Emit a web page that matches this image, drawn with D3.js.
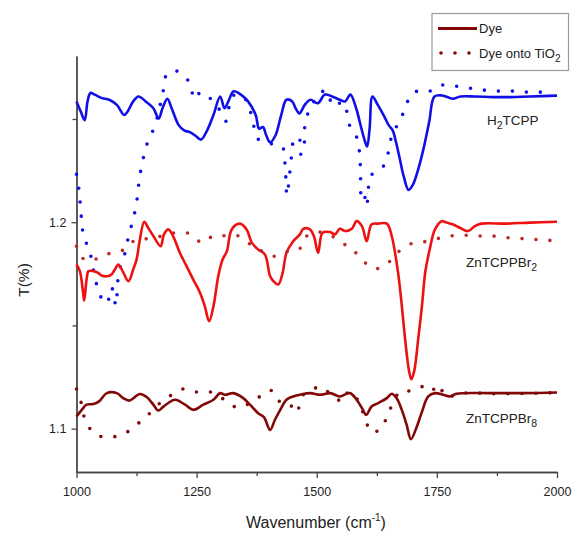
<!DOCTYPE html>
<html>
<head>
<meta charset="utf-8">
<script src="https://cdn.jsdelivr.net/npm/d3@7"></script>
<style>
body { margin: 0; background: #fff; }
text { font-family: Arial, "Liberation Sans", sans-serif; fill: #222; }
.axis path, .axis line { stroke: #444; stroke-width: 1.3; }
.solid { fill: none; stroke-width: 2.6; stroke-linejoin: round; }
.dotted { fill: none; stroke-width: 3.6; stroke-linecap: round; stroke-dasharray: 0 14; }
</style>
</head>
<body>
<svg id="chart" width="572" height="533"></svg>
<script>
// ticks
const xMajor = [1000, 1250, 1500, 1750, 2000];
const xMinor = [1125, 1375, 1625, 1875];
const yMajor = [1.1, 1.2];
const yMinor = [1.15, 1.25];

// H2TCPP : [wavenumber, T]
const h2Dye = [
  [1000,1.2585],[1009,1.2535],[1017,1.2494],[1023,1.2585],[1029,1.2626],[1038,1.2618],[1053,1.2601],
  [1068,1.2593],[1084,1.2568],[1099,1.2519],[1106,1.2535],[1118,1.2585],[1129,1.2609],[1144,1.2585],
  [1160,1.2552],[1171,1.2502],[1179,1.2552],[1189,1.2598],[1198,1.2552],[1213,1.2469],[1224,1.2445],
  [1236,1.2436],[1247,1.2420],[1259,1.2400],[1270,1.2436],[1285,1.2519],[1299,1.2609],[1308,1.2552],
  [1316,1.2585],[1327,1.2634],[1342,1.2618],[1357,1.2585],[1373,1.2519],[1380,1.2453],[1388,1.2461],
  [1395,1.2420],[1403,1.2387],[1414,1.2420],[1426,1.2519],[1437,1.2593],[1449,1.2585],[1456,1.2552],
  [1464,1.2527],[1475,1.2568],[1487,1.2593],[1502,1.2576],[1517,1.2618],[1532,1.2609],[1548,1.2593],
  [1559,1.2585],[1570,1.2618],[1582,1.2552],[1593,1.2453],[1601,1.2387],[1605,1.2367],[1610,1.2453],
  [1616,1.2609],[1627,1.2568],[1639,1.2519],[1650,1.2469],[1658,1.2445],[1665,1.2387],[1673,1.2305],
  [1681,1.2222],[1691,1.2156],[1700,1.2181],[1711,1.2255],[1722,1.2354],[1734,1.2486],[1745,1.2609],
  [1761,1.2614],[1783,1.2598],[1799,1.2609],[1829,1.2609],[1867,1.2606],[1905,1.2606],[1943,1.2609],
  [2000,1.2613]
];
const h2TiO2 = [
  [1000,1.2232],[1005,1.2159],[1011,1.2004],[1016,1.1917],[1026,1.1878],[1032,1.1805],[1039,1.1727],
  [1049,1.1645],[1063,1.1606],[1073,1.1684],[1082,1.1596],[1085,1.1674],[1088,1.1756],[1099,1.1834],
  [1107,1.1917],[1116,1.1999],[1124,1.2077],[1128,1.2154],[1132,1.2227],[1139,1.2310],[1148,1.2387],
  [1163,1.2465],[1172,1.2547],[1180,1.2630],[1186,1.2708],[1199,1.2732],[1211,1.2730],[1236,1.2674],
  [1245,1.2596],[1259,1.2630],[1282,1.2591],[1297,1.2547],[1311,1.2489],[1324,1.2610],[1344,1.2615],
  [1359,1.2557],[1368,1.2474],[1378,1.2402],[1405,1.2380],[1428,1.2366],[1434,1.2281],[1438,1.2130],
  [1444,1.2242],[1448,1.2329],[1453,1.2402],[1463,1.2412],[1467,1.2329],[1472,1.2339],[1477,1.2499],
  [1489,1.2557],[1503,1.2620],[1521,1.2635],[1534,1.2562],[1555,1.2581],[1569,1.2465],[1583,1.2412],
  [1589,1.2339],[1591,1.2256],[1594,1.2101],[1600,1.2120],[1604,1.2077],[1607,1.2145],[1611,1.2222],
  [1625,1.2247],[1642,1.2281],[1651,1.2363],[1659,1.2441],[1673,1.2484],[1684,1.2557],[1702,1.2630],
  [1730,1.2630],[1760,1.2664],[1789,1.2659],[1819,1.2649],[1847,1.2640],[1878,1.2635],[1906,1.2635],
  [1937,1.2630],[1965,1.2630],[1990,1.2630]
];

// ZnTCPPBr2
const br2Dye = [
  [1000,1.1795],[1007,1.1763],[1013,1.1674],[1016,1.1620],[1021,1.1722],[1025,1.1763],[1035,1.1763],
  [1045,1.1755],[1052,1.1742],[1063,1.1738],[1073,1.1747],[1080,1.1771],[1087,1.1795],[1096,1.1763],
  [1108,1.1714],[1118,1.1771],[1125,1.1819],[1132,1.1917],[1141,1.2002],[1149,1.1973],[1160,1.1933],
  [1175,1.1884],[1182,1.1941],[1191,1.1965],[1201,1.1933],[1215,1.1852],[1229,1.1787],[1243,1.1722],
  [1257,1.1658],[1267,1.1593],[1276,1.1520],[1285,1.1593],[1295,1.1738],[1304,1.1819],[1313,1.1860],
  [1323,1.1965],[1340,1.1993],[1354,1.1965],[1365,1.1900],[1378,1.1868],[1392,1.1844],[1403,1.1738],
  [1410,1.1714],[1420,1.1698],[1429,1.1755],[1437,1.1852],[1451,1.1908],[1465,1.1941],[1472,1.1968],
  [1486,1.1965],[1494,1.1933],[1503,1.1852],[1512,1.1949],[1528,1.1952],[1538,1.1941],[1548,1.1968],
  [1559,1.1957],[1573,1.1968],[1583,1.2005],[1594,1.1981],[1604,1.1908],[1614,1.1989],[1628,1.1993],
  [1646,1.1993],[1656,1.1933],[1669,1.1760],[1677,1.1596],[1684,1.1431],[1692,1.1281],[1697,1.1239],
  [1703,1.1281],[1711,1.1431],[1719,1.1596],[1726,1.1761],[1736,1.1878],[1746,1.1965],[1760,1.2005],
  [1770,1.1998],[1784,1.1989],[1798,1.1973],[1815,1.1957],[1829,1.1981],[1843,1.1993],[1895,1.1993],
  [1944,1.1998],[2000,1.2002]
];
const br2TiO2 = [
  [1000,1.1884],[1018,1.1815],[1049,1.1828],[1075,1.1855],[1101,1.1868],[1124,1.1917],[1149,1.1920],
  [1177,1.1933],[1207,1.1949],[1236,1.1944],[1262,1.1900],[1286,1.1936],[1313,1.1933],[1338,1.1933],
  [1365,1.1887],[1388,1.1858],[1413,1.1835],[1437,1.1857],[1462,1.1865],[1479,1.1933],[1507,1.1952],
  [1531,1.1933],[1552,1.1900],[1573,1.1871],[1597,1.1811],[1621,1.1774],[1647,1.1800],[1665,1.1847],
  [1698,1.1897],[1723,1.1905],[1750,1.1920],[1779,1.1933],[1809,1.1937],[1838,1.1933],[1865,1.1933],
  [1895,1.1925],[1924,1.1921],[1953,1.1917],[1982,1.1912],[1998,1.1912]
];

// ZnTCPPBr8
const br8Dye = [
  [1000,1.1059],[1011,1.1091],[1021,1.1116],[1035,1.1119],[1047,1.1132],[1063,1.1172],[1084,1.1172],
  [1097,1.1148],[1110,1.1136],[1132,1.1168],[1146,1.1153],[1160,1.1116],[1170,1.1088],[1181,1.1107],
  [1205,1.1140],[1226,1.1116],[1243,1.1091],[1264,1.1116],[1285,1.1140],[1299,1.1172],[1309,1.1164],
  [1326,1.1172],[1347,1.1148],[1361,1.1116],[1378,1.1075],[1390,1.1056],[1403,1.0994],[1413,1.1043],
  [1424,1.1091],[1437,1.1140],[1451,1.1156],[1465,1.1164],[1486,1.1172],[1507,1.1164],[1528,1.1172],
  [1548,1.1156],[1569,1.1172],[1583,1.1140],[1594,1.1100],[1603,1.1067],[1614,1.1107],[1628,1.1124],
  [1646,1.1148],[1656,1.1169],[1666,1.1148],[1677,1.1091],[1687,1.1019],[1696,1.0949],[1707,1.1002],
  [1718,1.1075],[1732,1.1156],[1746,1.1172],[1763,1.1164],[1777,1.1156],[1791,1.1169],[1861,1.1172],
  [1930,1.1172],[2000,1.1175]
];
const br8TiO2 = [
  [1000,1.1192],[1011,1.1116],[1019,1.1035],[1041,1.0970],[1070,1.0959],[1099,1.0975],[1125,1.1019],
  [1147,1.1062],[1170,1.1116],[1195,1.1159],[1222,1.1192],[1251,1.1177],[1280,1.1177],[1306,1.1143],
  [1336,1.1101],[1361,1.1124],[1387,1.1164],[1405,1.1185],[1418,1.1136],[1441,1.1127],[1457,1.1077],
  [1472,1.1164],[1486,1.1180],[1507,1.1204],[1534,1.1156],[1555,1.1132],[1566,1.1180],[1582,1.1150],
  [1594,1.1091],[1605,1.1019],[1611,1.0986],[1621,1.0986],[1632,1.0994],[1642,1.1035],[1649,1.1075],
  [1659,1.1124],[1673,1.1180],[1687,1.1180],[1704,1.1192],[1718,1.1204],[1736,1.1179],[1755,1.1213],
  [1767,1.1156],[1805,1.1172],[1881,1.1169],[1998,1.1174]
];

const series = [
  {data: h2Dye,   color: "#1010e6", cls: "solid"},
  {data: h2TiO2,  color: "#1010e6", cls: "dotted"},
  {data: br2Dye,  color: "#ee1111", cls: "solid"},
  {data: br2TiO2, color: "#bb2a2a", cls: "dotted"},
  {data: br8Dye,  color: "#820808", cls: "solid"},
  {data: br8TiO2, color: "#820808", cls: "dotted"}
];

const svg = d3.select("#chart");

var xScale = d3.scaleLinear([1000, 2000], [76.5, 557]);
var yScale = d3.scaleLinear([1.079, 1.2805], [472, 56]);

// axes
svg.append("g").attr("class", "axis")
    .attr("transform", "translate(0,472)")
    .call(d3.axisBottom(xScale).tickValues(xMinor).tickSize(4).tickSizeOuter(0).tickFormat(""));
var gx = svg.append("g").attr("class", "axis")
    .attr("transform", "translate(0,472)")
    .call(d3.axisBottom(xScale).tickValues(xMajor).tickSize(6).tickSizeOuter(0).tickPadding(9).tickFormat(d3.format("d")));
gx.selectAll("text").attr("font-size", 12.5).attr("fill", "#222");

svg.append("g").attr("class", "axis")
    .attr("transform", "translate(76.5,0)")
    .call(d3.axisLeft(yScale).tickValues(yMinor).tickSize(4).tickSizeOuter(0).tickFormat(""));
var gy = svg.append("g").attr("class", "axis")
    .attr("transform", "translate(76.5,0)")
    .call(d3.axisLeft(yScale).tickValues(yMajor).tickSize(5).tickSizeOuter(0).tickPadding(5).tickFormat(d3.format(".1f")));
gy.selectAll("text").attr("font-size", 12.5).attr("fill", "#222");
svg.selectAll(".axis .domain").attr("stroke", "#444");

// curves
var pathLine = d3.line()
    .x(d => xScale(d[0]))
    .y(d => yScale(d[1]))
    .curve(d3.curveCatmullRom.alpha(.5));

series.forEach(s => {
    svg.append("path")
        .attr("d", pathLine(s.data))
        .attr("class", s.cls)
        .attr("stroke", s.color);
});

// curve labels
function subLabel(x, y, parts) {
    var t = svg.append("text").attr("x", x).attr("y", y).attr("font-size", 13.5);
    parts.forEach(p => {
        if (p.sub) {
            t.append("tspan").text(p.s).attr("dy", 4).attr("font-size", 10.5);
        } else {
            t.append("tspan").text(p.s).attr("dy", p.back ? -4 : 0);
        }
    });
}
subLabel(487, 125, [{s: "H"}, {s: "2", sub: true}, {s: "TCPP", back: true}]);
subLabel(466, 267, [{s: "ZnTCPPBr"}, {s: "2", sub: true}]);
subLabel(466, 423, [{s: "ZnTCPPBr"}, {s: "8", sub: true}]);

// axis titles
var xt = svg.append("text")
    .attr("x", 316).attr("y", 528)
    .attr("text-anchor", "middle")
    .attr("font-size", 16);
xt.append("tspan").text("Wavenumber (cm");
xt.append("tspan").text("-1").attr("dy", -7).attr("font-size", 10);
xt.append("tspan").text(")").attr("dy", 7);

svg.append("text")
    .text("T(%)")
    .attr("transform", "translate(29,280) rotate(-90)")
    .attr("text-anchor", "middle")
    .attr("font-size", 15.5);

// legend
var lg = svg.append("g");
lg.append("rect")
    .attr("x", 432).attr("y", 13.5).attr("width", 136.5).attr("height", 57)
    .attr("fill", "#fff").attr("stroke", "#9a9a9a").attr("stroke-width", 1.2);
lg.append("line")
    .attr("x1", 438).attr("x2", 477).attr("y1", 28.5).attr("y2", 28.5)
    .attr("stroke", "#820808").attr("stroke-width", 3);
lg.append("text").text("Dye").attr("x", 479).attr("y", 33).attr("font-size", 13);
lg.append("line")
    .attr("x1", 441).attr("x2", 470).attr("y1", 53).attr("y2", 53)
    .attr("class", "dotted").attr("stroke", "#820808");
var lt = lg.append("text").attr("x", 479).attr("y", 58).attr("font-size", 13);
lt.append("tspan").text("Dye onto TiO");
lt.append("tspan").text("2").attr("dy", 4).attr("font-size", 10);
</script>
</body>
</html>
